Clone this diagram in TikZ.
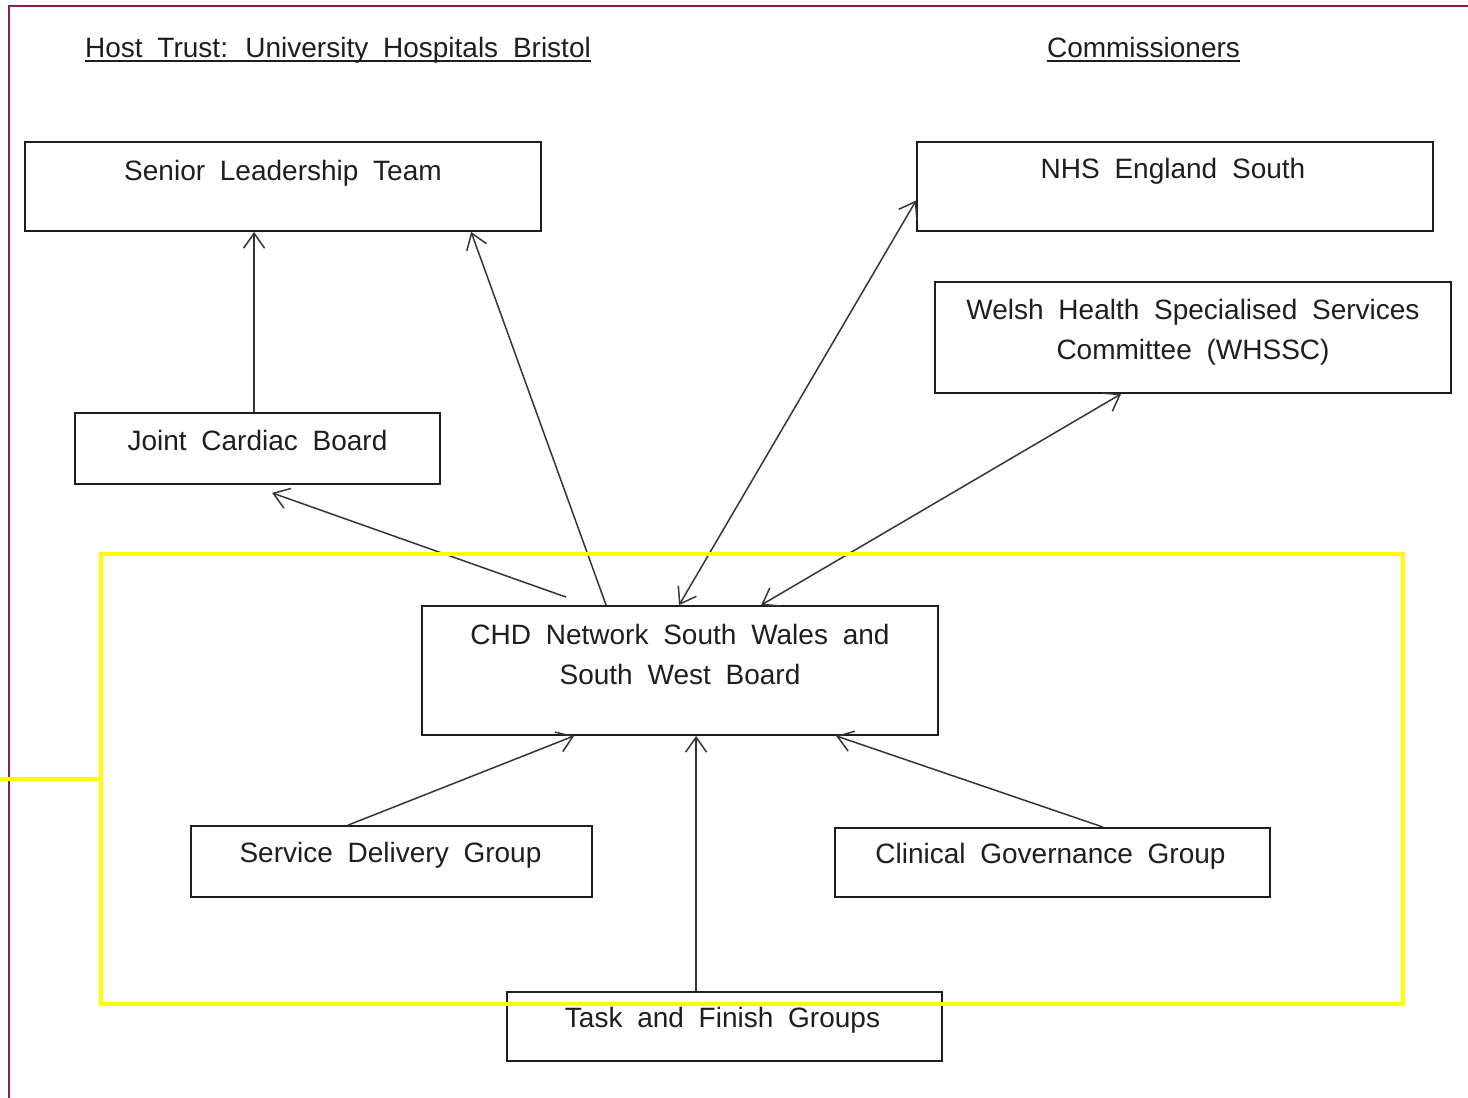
\documentclass[tikz,border=0pt]{standalone}
\usepackage{fontspec}
\setmainfont{Liberation Sans}[WordSpace=1.9]
\usetikzlibrary{arrows.meta,calc}
\definecolor{frame}{RGB}{125,35,90}
\definecolor{hl}{RGB}{255,255,0}
\definecolor{ink}{RGB}{30,30,30}
\begin{document}
\begin{tikzpicture}[x=1pt,y=-1pt,
  box/.style={draw=ink,line width=1.8pt,rectangle,inner sep=0pt},
  txt/.style={inner sep=0pt,anchor=base,align=center,font=\fontsize{28}{40}\selectfont,text=ink},
  tip/.tip={Straight Barb[length=15pt,width=21pt]},
  arr/.style={draw=ink!90,line width=1.5pt,-tip},
  darr/.style={draw=ink!90,line width=1.5pt,tip-tip}]
\useasboundingbox (0,0) rectangle (1468,1098);
\fill[white] (0,0) rectangle (1468,1098);
% outer frame
\draw[frame,line width=1.8pt] (9,1100) -- (9,6) -- (1470,6);
% titles
\node[txt] (ht) at (338,57) {Host Trust:  University  Hospitals  Bristol};
\node[txt] (cm) at (1143.5,57) {Commissioners};
\draw[ink,line width=1.8pt] ([yshift=-4pt]ht.base west) -- ([yshift=-4pt]ht.base east);
\draw[ink,line width=1.8pt] ([yshift=-4pt]cm.base west) -- ([yshift=-4pt]cm.base east);
% boxes
\node[box,minimum width=516pt,minimum height=89pt] (slt) at (283,186.5) {};
\node[box,minimum width=516pt,minimum height=89pt] (nhs) at (1175,186.5) {};
\node[box,minimum width=516pt,minimum height=111pt] (wh) at (1193,337.5) {};
\node[box,minimum width=365pt,minimum height=71pt] (jcb) at (257.5,448.5) {};
\node[box,minimum width=516pt,minimum height=129pt] (chd) at (680,670.5) {};
\node[box,minimum width=401pt,minimum height=71pt] (sdg) at (391.5,861.5) {};
\node[box,minimum width=435pt,minimum height=69pt] (cgg) at (1052.5,862.5) {};
\node[box,minimum width=435pt,minimum height=69pt] (tfg) at (724.5,1026.5) {};
% texts
\node[txt] (tslt) at ($(slt.north)+(0,39)$) {Senior  Leadership  Team};
\node[txt] (tnhs) at ($(nhs.north)+(-2,37)$) {NHS England  South};
\node[txt] (twh) at ($(wh.north)+(0,78)$) {Welsh  Health  Specialised  Services\\Committee  (WHSSC)};
\node[txt] (tjcb) at ($(jcb.north)+(0,38)$) {Joint  Cardiac  Board};
\node[txt] (tchd) at ($(chd.north)+(0,79)$) {CHD Network  South  Wales  and\\South  West  Board};
\node[txt] (tsdg) at ($(sdg.north)+(-1,37)$) {Service  Delivery  Group};
\node[txt] (tcgg) at ($(cgg.north)+(-2,36)$) {Clinical  Governance  Group};
\node[txt] (ttfg) at ($(tfg.north)+(-2,36)$) {Task  and  Finish  Groups};
% connectors
\draw[arr] ($(jcb.north west)+(180,0)$) -- ($(slt.south west)+(230,0)$);
\draw[arr] ($(chd.north west)+(185,0)$) -- ($(slt.south west)+(447,0)$);
\draw[arr] ($(chd.north west)+(145,-8)$) -- ($(jcb.south west)+(198,8)$);
\draw[darr] ($(chd.north west)+(258,0)$) -- ($(nhs.west)+(0,14)$);
\draw[darr] ($(chd.north west)+(340,0)$) -- ($(wh.south west)+(187,0)$);
\draw[arr] ($(sdg.north west)+(158,0)$) -- ($(chd.south west)+(153,0)$);
\draw[arr] ($(tfg.north west)+(190,0)$) -- ($(chd.south west)+(275,0)$);
\draw[arr] ($(cgg.north west)+(269,0)$) -- ($(chd.south west)+(415,0)$);
% highlight frame
\draw[hl,line width=4pt] (101,554) rectangle (1403,1004);
\draw[hl,line width=4pt] (0,779) -- (101,779);
\end{tikzpicture}
\end{document}
